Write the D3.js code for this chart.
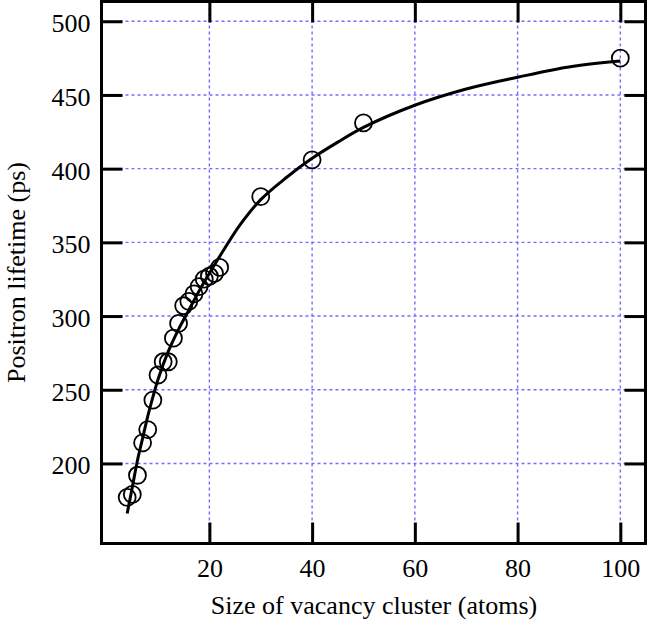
<!DOCTYPE html>
<html>
<head>
<meta charset="utf-8">
<script src="https://cdn.jsdelivr.net/npm/d3@7"></script>
<style>
html,body{margin:0;padding:0;background:#fff;font-family:"Liberation Serif","Times New Roman",serif;}
svg{display:block;}
</style>
</head>
<body>
<svg id="chart" width="648" height="623"></svg>
<script>
// Measured data: cluster size (atoms) vs positron lifetime (ps)
const sizes = [4,5,6,7,8,9,10,11,12,13,14,15,16,17,18,19,20,21,22,30,40,50,100];
const lifetimes = [177,179,192,214,223,243,260,269,269,285,295,307,310,315,320,325,327,329,333,381,406,431,475];
// Fitted curve
const fitSizes = [4,5,6,7,8,9,10,12,14,16,18,20,23,26,30,35,40,45,50,60,70,80,90,100];
const fitLifetimes = [166,184,202,217,232,245,257,276,291,304,317,329,346,362,379,394,407,418,428,443,454,462,469,473];
const xTicks = [20,40,60,80,100];
const yTicks = [200,250,300,350,400,450,500];
const xLabel = "Size of vacancy cluster (atoms)";
const yLabel = "Positron lifetime (ps)";

const FONT = '"Liberation Serif", "Times New Roman", Tinos, "DejaVu Serif", serif';
const svg = d3.select("#chart");
const L = 101.5, R = 645.5, T = 1.5, B = 543.5;
const x = d3.scaleLinear().domain([-1.0, 104.9]).range([L, R]);
const y = d3.scaleLinear().domain([145.7, 513.4]).range([B, T]);

// grid
const grid = svg.append("g");
grid.selectAll("line.gx").data(xTicks).join("line")
  .attr("x1", d => x(d)).attr("x2", d => x(d)).attr("y1", T).attr("y2", B)
  .attr("stroke", "#6f6fff").attr("stroke-width", 1.4).attr("stroke-dasharray", "3,3");
grid.selectAll("line.gy").data(yTicks).join("line")
  .attr("y1", d => y(d)).attr("y2", d => y(d)).attr("x1", L).attr("x2", R)
  .attr("stroke", "#6f6fff").attr("stroke-width", 1.4).attr("stroke-dasharray", "3,3");

// axes with inward ticks on all sides
const tickLen = 21;
const axB = svg.append("g").attr("transform", `translate(0,${B})`)
  .call(d3.axisBottom(x).tickValues(xTicks).tickSizeInner(-tickLen).tickSizeOuter(0));
const axT = svg.append("g").attr("transform", `translate(0,${T})`)
  .call(d3.axisTop(x).tickValues(xTicks).tickSizeInner(-tickLen).tickSizeOuter(0).tickFormat(""));
const axL = svg.append("g").attr("transform", `translate(${L},0)`)
  .call(d3.axisLeft(y).tickValues(yTicks).tickSizeInner(-tickLen).tickSizeOuter(0));
const axR = svg.append("g").attr("transform", `translate(${R},0)`)
  .call(d3.axisRight(y).tickValues(yTicks).tickSizeInner(-tickLen).tickSizeOuter(0).tickFormat(""));
[axB, axT, axL, axR].forEach(a => {
  a.attr("font-family", null).attr("font-size", null);
  a.select(".domain").remove();
  a.selectAll(".tick line").attr("stroke", "#000").attr("stroke-width", 3);
  a.selectAll(".tick text").style("font-family", FONT).style("font-size", "26px").attr("fill", "#000");
});
axB.selectAll(".tick text").attr("y", 0).attr("dy", 0).attr("transform", "translate(0,33)");
axL.selectAll(".tick text").attr("x", -11).attr("dy", "0.4em");

// frame
svg.append("rect").attr("x", L).attr("y", T).attr("width", R - L).attr("height", B - T)
  .attr("fill", "none").attr("stroke", "#000").attr("stroke-width", 3);

// fitted curve
svg.append("path")
  .datum(fitSizes.map((s, i) => [s, fitLifetimes[i]]))
  .attr("fill", "none").attr("stroke", "#000").attr("stroke-width", 3)
  .attr("d", d3.line().x(d => x(d[0])).y(d => y(d[1])).curve(d3.curveCatmullRom.alpha(0.5)));

// data circles
svg.append("g").selectAll("circle").data(sizes.map((s, i) => [s, lifetimes[i]])).join("circle")
  .attr("cx", d => x(d[0])).attr("cy", d => y(d[1])).attr("r", 8.5)
  .attr("fill", "none").attr("stroke", "#000").attr("stroke-width", 1.8);

// axis titles
svg.append("text").attr("x", 374).attr("y", 614).attr("text-anchor", "middle")
  .style("font-family", FONT).style("font-size", "26px").attr("fill", "#000").text(xLabel);
svg.append("text").attr("transform", "translate(25,272.5) rotate(-90)")
  .attr("text-anchor", "middle").style("font-family", FONT).style("font-size", "26px")
  .attr("fill", "#000").text(yLabel);
</script>
</body>
</html>
